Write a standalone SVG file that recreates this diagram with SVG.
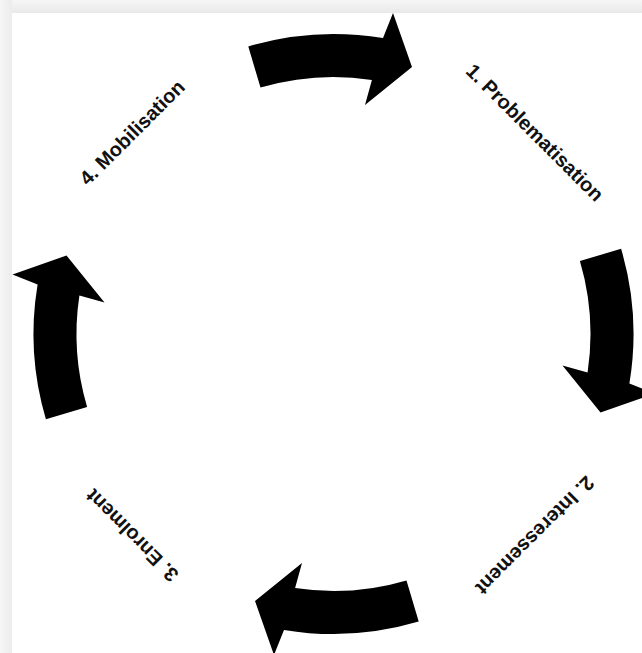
<svg xmlns="http://www.w3.org/2000/svg" width="642" height="653" viewBox="0 0 642 653">
  <defs>
    <linearGradient id="edgeTop" x1="0" y1="0" x2="0" y2="1">
      <stop offset="0" stop-color="#f6f6f6"/>
      <stop offset="1" stop-color="#e9e9e9"/>
    </linearGradient>
    <linearGradient id="edgeLeft" x1="0" y1="0" x2="1" y2="0">
      <stop offset="0" stop-color="#f6f6f6"/>
      <stop offset="1" stop-color="#ececec"/>
    </linearGradient>
    <!-- one curved arrow on the cycle ring (centre 333.5,334), pointing clockwise at the top -->
    <path id="cycleArrow" d="M248.3,46.4 A300,300 0 0 1 383,38.1 L393,13 L412,67 L365,105 L371.9,79.9 A257,257 0 0 0 260.5,87.6 Z"/>
  </defs>
  <style>
    .arrow { fill: #000; }
    .label { font-family: "Liberation Sans", Arial, sans-serif; font-weight: bold; font-size: 20px; fill: #111; text-anchor: middle; }
  </style>

  <!-- page frame -->
  <rect x="0" y="0" width="642" height="653" fill="#f3f3f3"/>
  <rect x="0" y="0" width="642" height="13" fill="url(#edgeTop)"/>
  <rect x="0" y="0" width="12" height="653" fill="url(#edgeLeft)"/>
  <rect x="12" y="13" width="630" height="640" fill="#ffffff"/>

  <!-- connectors: four arrows running clockwise round the cycle -->
  <g id="connectors" class="arrow">
    <use href="#cycleArrow"/>
    <use href="#cycleArrow" transform="rotate(90 333.5 334)"/>
    <use href="#cycleArrow" transform="rotate(180 333.5 334)"/>
    <use href="#cycleArrow" transform="rotate(270 333.5 334)"/>
  </g>

  <!-- stage labels set on the ring between the arrows -->
  <g id="node-problematisation">
    <text class="label" x="333.5" y="56" transform="rotate(45 333.5 334)">1. Problematisation</text>
  </g>
  <g id="node-interessement">
    <text class="label" x="333.5" y="56" transform="rotate(135 333.5 334)">2. Interessement</text>
  </g>
  <g id="node-enrolment">
    <text class="label" x="333.5" y="56" transform="rotate(225 333.5 334)">3. Enrolment</text>
  </g>
  <g id="node-mobilisation">
    <text class="label" x="333.5" y="56" transform="rotate(315 333.5 334)">4. Mobilisation</text>
  </g>
</svg>
